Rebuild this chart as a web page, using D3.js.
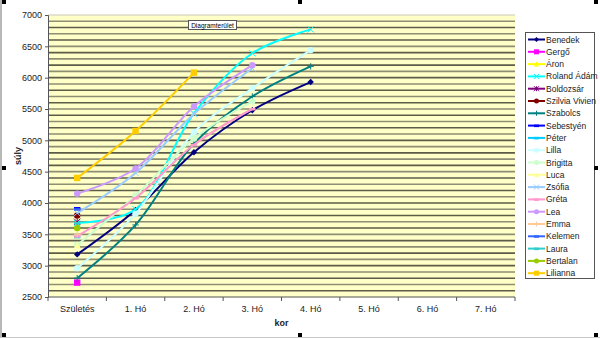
<!DOCTYPE html>
<html><head><meta charset="utf-8">
<script src="https://cdn.jsdelivr.net/npm/d3@7"></script>
<style>body{margin:0;background:#fff}svg{display:block;font-family:"Liberation Sans",Arial,sans-serif}</style>
</head><body>
<svg id="c" width="600" height="339"></svg>
<script>
const categories = ["Születés","1. Hó","2. Hó","3. Hó","4. Hó","5. Hó","6. Hó","7. Hó"];
const yTicks = [2500,3000,3500,4000,4500,5000,5500,6000,6500,7000];
const names = ["Benedek","Gergő","Áron","Roland Ádám","Boldozsár","Szilvia Vivien","Szabolcs","Sebestyén","Péter","Lilla","Brigitta","Luca","Zsófia","Gréta","Lea","Emma","Kelemen","Laura","Bertalan","Lilianna"];
const colors = ["#000080","#FF00FF","#FFFF00","#00FFFF","#800080","#800000","#008080","#0000FF","#00CCFF","#CCFFFF","#CCFFCC","#FFFF99","#99CCFF","#FF99CC","#CC99FF","#FFCC99","#3366FF","#33CCCC","#99CC00","#FFCC00"];
const markers = ["diamond","square","triangle","x","star","circle","plus","dash","dash","circle","circle","triangle","x","dash","circle","plus","dash","dash","circle","square"];
const benedek = [3180,3890,4810,5480,5930];
const gergo = [2730];
const aron = [3620];
const roland = [3680,3900,5430,6390,6770];
const boldozsar = [3700];
const szilvia = [3800];
const szabolcs = [2800,3650,4950,5700,6180];
const sebestyen = [3920];
const peter = [3460];
const lilla = [2960,3830,5130,5830,6440];
const brigitta = [3330,4120,5030,5620];
const luca = [3330];
const zsofia = [3840,4480,5420,6150];
const greta = [3470,4080,4930,5500];
const lea = [4150,4550,5540,6200];
const emma = [3500];
const kelemen = [3900];
const laura = [3680];
const bertalan = [3600];
const lilianna = [4400,5150,6080];
const values = [benedek,gergo,aron,roland,boldozsar,szilvia,szabolcs,sebestyen,peter,lilla,brigitta,luca,zsofia,greta,lea,emma,kelemen,laura,bertalan,lilianna];

const svg = d3.select("#c");
const L=48, R=515, T=15, B=297;
const x = d3.scaleBand().domain(categories).range([L,R]).padding(0);
const y = d3.scaleLinear().domain([2500,7000]).range([B,T]);

// frame lines
svg.append("line").attr("x1",1).attr("x2",1).attr("y1",0).attr("y2",338).attr("stroke","#b8b8b8").attr("stroke-width",2);
svg.append("line").attr("x1",0).attr("x2",600).attr("y1",337.5).attr("y2",337.5).attr("stroke","#c8c8c8");

// plot area
svg.append("rect").attr("x",L).attr("y",T).attr("width",R-L).attr("height",B-T).attr("fill","#FFFFC8");
const minor = d3.range(2600,7000,100);
svg.append("g").selectAll("line").data(minor).join("line")
  .attr("x1",L).attr("x2",R).attr("y1",d=>y(d)).attr("y2",d=>y(d))
  .attr("stroke",(d,i)=>i%2?"#8e8e74":"#5c5c48").attr("stroke-width",1.6);
svg.append("line").attr("x1",L).attr("x2",R).attr("y1",T).attr("y2",T).attr("stroke","#c8c8b8");

// axes
const yAxis = svg.append("g").attr("transform",`translate(${L},0)`)
  .call(d3.axisLeft(y).tickValues(yTicks).tickSize(3).tickPadding(3).tickFormat(d3.format("d")));
yAxis.select(".domain").attr("stroke","#555");
yAxis.selectAll("line").attr("stroke","#555");
yAxis.selectAll("text").attr("font-size","9px").attr("fill","#222");

const xg = svg.append("g").attr("transform",`translate(0,${B})`);
xg.append("line").attr("x1",L).attr("x2",R).attr("stroke","#555");
const bounds = categories.map((c,i)=>x(c)).concat([R]);
xg.selectAll("line.t").data(bounds).join("line").attr("class","t")
  .attr("x1",d=>d).attr("x2",d=>d).attr("y1",0).attr("y2",4).attr("stroke","#555");
xg.selectAll("text").data(categories).join("text")
  .attr("x",d=>x(d)+x.bandwidth()/2).attr("y",15).attr("text-anchor","middle")
  .attr("font-size","9px").attr("fill","#222").text(d=>d);

svg.append("text").attr("x",(L+R)/2).attr("y",326).attr("text-anchor","middle")
  .attr("font-size","9px").attr("font-weight","bold").attr("fill","#222").text("kor");
svg.append("text").attr("transform","translate(21,156) rotate(-90)").attr("text-anchor","middle")
  .attr("font-size","9px").attr("font-weight","bold").attr("fill","#222").text("súly");

function drawMarker(g, type, cx, cy, color, s){
  if(type==="diamond") g.append("path").attr("d",`M${cx},${cy-s}L${cx+s},${cy}L${cx},${cy+s}L${cx-s},${cy}Z`).attr("fill",color);
  else if(type==="square") g.append("rect").attr("x",cx-s).attr("y",cy-s).attr("width",2*s).attr("height",2*s).attr("fill",color);
  else if(type==="triangle") g.append("path").attr("d",`M${cx},${cy-s}L${cx+s},${cy+s}L${cx-s},${cy+s}Z`).attr("fill",color);
  else if(type==="circle") g.append("circle").attr("cx",cx).attr("cy",cy).attr("r",s).attr("fill",color);
  else if(type==="x") g.append("path").attr("d",`M${cx-s},${cy-s}L${cx+s},${cy+s}M${cx+s},${cy-s}L${cx-s},${cy+s}`).attr("stroke",color).attr("stroke-width",1);
  else if(type==="plus") g.append("path").attr("d",`M${cx-s},${cy}L${cx+s},${cy}M${cx},${cy-s}L${cx},${cy+s}`).attr("stroke",color).attr("stroke-width",1);
  else if(type==="star") g.append("path").attr("d",`M${cx-s},${cy-s}L${cx+s},${cy+s}M${cx+s},${cy-s}L${cx-s},${cy+s}M${cx},${cy-s}L${cx},${cy+s}`).attr("stroke",color).attr("stroke-width",1);
  else if(type==="dash") g.append("rect").attr("x",cx-s).attr("y",cy-1).attr("width",2*s).attr("height",2.5).attr("fill",color);
}

const line = d3.line().x((d,i)=>x(categories[i])+x.bandwidth()/2).y(d=>y(d)).curve(d3.curveCatmullRom.alpha(0.5));
const series = svg.append("g");
values.forEach((vals,si)=>{
  const g = series.append("g");
  if(vals.length>1) g.append("path").attr("d",line(vals)).attr("fill","none").attr("stroke",colors[si]).attr("stroke-width",2);
  vals.forEach((v,i)=>drawMarker(g, markers[si], x(categories[i])+x.bandwidth()/2, y(v), colors[si], 3.2));
});

// legend
const lg = svg.append("g");
lg.append("rect").attr("x",525.5).attr("y",32.5).attr("width",69).attr("height",246).attr("fill","#fff").attr("stroke","#555");
names.forEach((n,i)=>{
  const yy = 39.5 + i*12.3;
  lg.append("line").attr("x1",528).attr("x2",545).attr("y1",yy).attr("y2",yy).attr("stroke",colors[i]).attr("stroke-width",2);
  drawMarker(lg, markers[i], 536.5, yy, colors[i], 2.5);
  lg.append("text").attr("x",546).attr("y",yy+3).attr("font-size","8.5px").attr("fill","#222").text(n);
});

// tooltip
svg.append("rect").attr("x",188.5).attr("y",20.5).attr("width",48).attr("height",9).attr("fill","#fff").attr("stroke","#555");
svg.append("text").attr("x",212.5).attr("y",27.5).attr("text-anchor","middle").attr("font-size","6.5px").attr("fill","#000").text("Diagramterület");

// selection handles
[[4,2],[300,2],[596,2],[4,168],[596,168],[4,335],[300,335],[596,335]].forEach(p=>{
  svg.append("rect").attr("x",p[0]-2).attr("y",p[1]-2).attr("width",4).attr("height",4).attr("fill","#000");
});
</script>
</body></html>
